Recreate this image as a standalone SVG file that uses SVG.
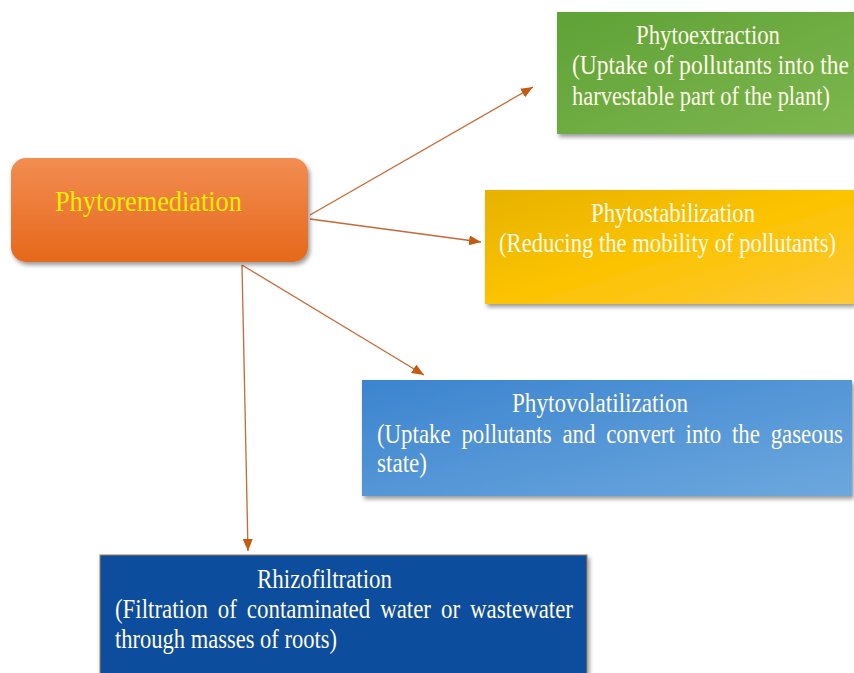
<svg xmlns="http://www.w3.org/2000/svg" width="854" height="673" viewBox="0 0 854 673">
<defs>
<linearGradient id="gOrange" x1="0" y1="0" x2="0" y2="1"><stop offset="0" stop-color="#f28d52"/><stop offset="1" stop-color="#e6681b"/></linearGradient>
<linearGradient id="gGreen" x1="0" y1="0" x2="1" y2="1"><stop offset="0" stop-color="#5fa236"/><stop offset="1" stop-color="#7db64e"/></linearGradient>
<linearGradient id="gYellow" x1="0" y1="0" x2="1" y2="1"><stop offset="0" stop-color="#e7b200"/><stop offset="0.5" stop-color="#fbc300"/><stop offset="1" stop-color="#ffc838"/></linearGradient>
<linearGradient id="gBlue" x1="0" y1="0" x2="1" y2="1"><stop offset="0" stop-color="#3b84cf"/><stop offset="1" stop-color="#6da8de"/></linearGradient>
<filter id="shadow" x="-10%" y="-10%" width="125%" height="130%"><feDropShadow dx="2" dy="3" stdDeviation="2.2" flood-color="#000" flood-opacity="0.4"/></filter>
<marker id="arrow" viewBox="0 0 12 10" refX="12" refY="5" markerWidth="12" markerHeight="10" markerUnits="userSpaceOnUse" orient="auto"><path d="M0,0 L12,5 L0,10 z" fill="#c55a11"/></marker>
</defs>
<style>
.t{font-family:"Liberation Serif","Times New Roman",serif;font-size:27px;fill:#fffbe8}
.c{stroke:#c56a34;stroke-width:1.3;fill:none;marker-end:url(#arrow)}
</style>
<rect width="854" height="673" fill="#ffffff"/>
<g id="connectors">
<line class="c" x1="310" y1="215" x2="533" y2="87"/>
<line class="c" x1="310" y1="219" x2="481" y2="242"/>
<line class="c" x1="242" y1="265" x2="424" y2="375"/>
<line class="c" x1="242" y1="265" x2="248" y2="551"/>
</g>
<g id="phytoremediation">
<rect x="11" y="158" width="297" height="104" rx="15" fill="url(#gOrange)" filter="url(#shadow)"/>
<text transform="translate(55,211) scale(0.877,1)" x="0" y="0" font-family="Liberation Serif, Times New Roman, serif" font-size="30" fill="#ffee00" textLength="213" lengthAdjust="spacingAndGlyphs">Phytoremediation</text>
</g>
<g id="phytoextraction">
<rect x="557" y="12" width="297" height="122" fill="url(#gGreen)" filter="url(#shadow)"/>
<text class="t" transform="translate(636,44) scale(0.845,1)" x="0" y="0" textLength="170.4" lengthAdjust="spacingAndGlyphs">Phytoextraction</text>
<text class="t" transform="translate(572,74) scale(0.845,1)" x="0" y="0" textLength="327.8" lengthAdjust="spacingAndGlyphs">(Uptake of pollutants into the</text>
<text class="t" transform="translate(572,105) scale(0.845,1)" x="0" y="0" textLength="305.3" lengthAdjust="spacingAndGlyphs">harvestable part of the plant)</text>
</g>
<g id="phytostabilization">
<rect x="485" y="190" width="369" height="114" fill="url(#gYellow)" filter="url(#shadow)"/>
<text class="t" transform="translate(591,222) scale(0.845,1)" x="0" y="0" textLength="194.1" lengthAdjust="spacingAndGlyphs">Phytostabilization</text>
<text class="t" transform="translate(499,252) scale(0.845,1)" x="0" y="0" textLength="398.8" lengthAdjust="spacingAndGlyphs">(Reducing the mobility of pollutants)</text>
</g>
<g id="phytovolatilization">
<rect x="362" y="380" width="490" height="116" fill="url(#gBlue)" filter="url(#shadow)"/>
<text class="t" transform="translate(512,412) scale(0.845,1)" x="0" y="0" textLength="208.3" lengthAdjust="spacingAndGlyphs">Phytovolatilization</text>
<text class="t" transform="translate(377,443) scale(0.845,1)" x="0" y="0" word-spacing="6" textLength="551.5" lengthAdjust="spacingAndGlyphs">(Uptake pollutants and convert into the gaseous</text>
<text class="t" transform="translate(377,472) scale(0.845,1)" x="0" y="0" textLength="59.2" lengthAdjust="spacingAndGlyphs">state)</text>
</g>
<g id="rhizofiltration">
<rect x="100" y="555" width="487" height="122" fill="#0c4e9e" stroke="#a87a4a" stroke-width="1" filter="url(#shadow)"/>
<text class="t" transform="translate(257,588) scale(0.845,1)" x="0" y="0" textLength="159.8" lengthAdjust="spacingAndGlyphs">Rhizofiltration</text>
<text class="t" transform="translate(115,618) scale(0.845,1)" x="0" y="0" word-spacing="5" textLength="542" lengthAdjust="spacingAndGlyphs">(Filtration of contaminated water or wastewater</text>
<text class="t" transform="translate(115,648) scale(0.845,1)" x="0" y="0" textLength="262.7" lengthAdjust="spacingAndGlyphs">through masses of roots)</text>
</g>
</svg>
